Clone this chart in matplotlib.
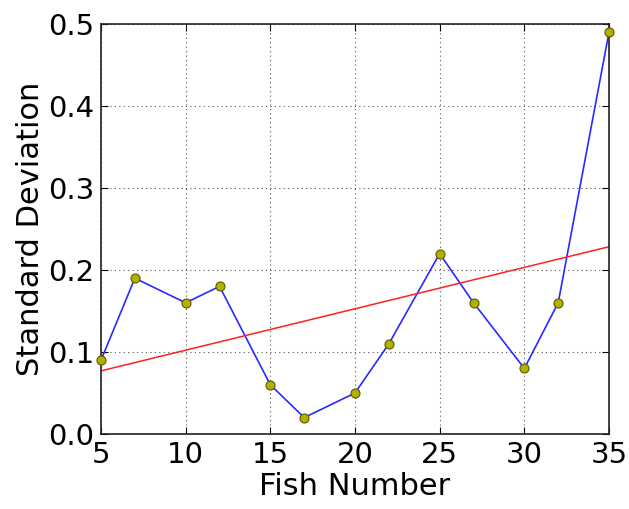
import numpy as np
import matplotlib
matplotlib.use("Agg")
import matplotlib.pyplot as plt

fish_number = [5, 7, 10, 12, 15, 17, 20, 22, 25, 27, 30, 32, 35]
std_dev = [0.09, 0.19, 0.16, 0.18, 0.06, 0.02, 0.05, 0.11, 0.22, 0.16, 0.08, 0.16, 0.49]

x = np.array(fish_number, dtype=float)
y = np.array(std_dev)
slope, intercept = np.polyfit(x, y, 1)

fig = plt.figure(figsize=(6.29, 5.09), dpi=100)
ax = fig.add_axes([101 / 629, 1 - 434 / 509, 508 / 629, 410 / 509])

ax.plot(x, y, color="#2a2aff", lw=1.2, zorder=2)
ax.plot(x, y, "o", ms=6.5, mfc="#b4b000", mec="#5a5a00", mew=0.8,
        linestyle="none", zorder=3, clip_on=False)
ax.plot(x, slope * x + intercept, color="#ff2020", lw=1.1, zorder=2)

ax.set_xlim(5, 35)
ax.set_ylim(0, 0.5)
ax.set_xticks([5, 10, 15, 20, 25, 30, 35])
ax.set_yticks([0.0, 0.1, 0.2, 0.3, 0.4, 0.5])
ax.set_yticklabels(["0.0", "0.1", "0.2", "0.3", "0.4", "0.5"])
ax.grid(True, color="#555555", linestyle=(0, (1, 3)), linewidth=0.8)
ax.tick_params(direction="in", top=True, right=True, labelsize=21, length=5, pad=5)
for s in ax.spines.values():
    s.set_linewidth(1.2)
    s.set_color("#222222")

ax.set_xlabel("Fish Number", fontsize=22, labelpad=2)
ax.set_ylabel("Standard Deviation", fontsize=22, labelpad=2)

fig.savefig("out.png", dpi=100)
